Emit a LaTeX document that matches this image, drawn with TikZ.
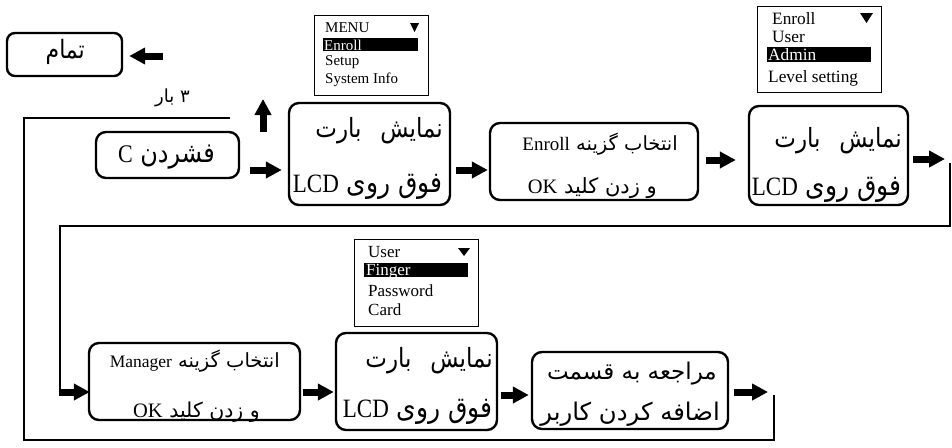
\documentclass[tikz,border=0pt]{standalone}
\usepackage{fontspec}
\usepackage{graphicx}
\setmainfont{Liberation Serif}
\newfontfamily\fa[Script=Arabic]{DejaVu Sans}
\TeXXeTstate=1
\usetikzlibrary{arrows.meta,calc}
\newcommand\setfs[1]{\fontsize{#1}{#1}\selectfont}
\newcommand\fatext[1]{{\fa\beginR #1\endR}}
\newcommand\tallfa[1]{\scalebox{1}[1.15]{\fatext{#1}}}
\tikzset{
  box/.style={draw, line width=2.4pt, rounded corners=10pt, inner sep=0pt},
  menu/.style={draw, line width=1pt, inner sep=0pt},
  fat/.style={line width=7pt, -{Triangle[length=16pt,width=16pt]}},
  thin/.style={line width=2.6pt},
  lbl/.style={inner sep=0pt, anchor=base east},
  mt/.style={inner sep=0pt, anchor=base west},
}
\begin{document}
\begin{tikzpicture}[x=1pt,y=-1pt]
\useasboundingbox (0,0) rectangle (952,447);
% boxes
\node[box, rounded corners=8pt, minimum width=115pt, minimum height=43pt] (tam) at (64.5,54.5) {};
\node[lbl] (tamt) at (85,58) {\tallfa{\setfs{22}تمام}};
\node[box, minimum width=143pt, minimum height=46pt] (pc) at (167.5,155) {};
\node[lbl] (pct) at (215,162) {\tallfa{\setfs{24}فشردن {\rmfamily\setfs{22}C}}};
\node[box, minimum width=161pt, minimum height=102pt] (b1) at (369.5,154) {};
\node[box, minimum width=208pt, minimum height=77pt] (b2) at (594,161.5) {};
\node[box, minimum width=159pt, minimum height=99pt] (b3) at (828.5,155.5) {};
\node[box, minimum width=211pt, minimum height=77pt] (b4) at (194.5,381.5) {};
\node[box, minimum width=161pt, minimum height=97pt] (b5) at (416.5,381.5) {};
\node[box, minimum width=196pt, minimum height=77pt] (b6) at (630,390.5) {};
% box texts
\node[lbl] (b1a) at (443,137) {\tallfa{\setfs{23}نمایش\hspace{0.5em} بارت}};
\node[lbl] (b1b) at (443,192) {\tallfa{\setfs{25}فوق روی {\rmfamily\setfs{23}LCD}}};
\node[lbl] (b2a) at (678,150) {\fatext{\setfs{19.5}انتخاب گزینه {\rmfamily\setfs{19}Enroll}}};
\node[lbl] (b2b) at (657,193) {\fatext{\setfs{21}و زدن کلید {\rmfamily\setfs{20.5}OK}}};
\node[lbl] (b3a) at (902,147) {\tallfa{\setfs{23}نمایش\hspace{0.5em} بارت}};
\node[lbl] (b3b) at (902,195) {\tallfa{\setfs{25}فوق روی {\rmfamily\setfs{23}LCD}}};
\node[lbl] (b4a) at (280,367) {\fatext{\setfs{19.5}انتخاب گزینه {\rmfamily\setfs{17.5}Manager}}};
\node[lbl] (b4b) at (260,417) {\fatext{\setfs{20.5}و زدن کلید {\rmfamily\setfs{20.5}OK}}};
\node[lbl] (b5a) at (493,367) {\tallfa{\setfs{23}نمایش\hspace{0.5em} بارت}};
\node[lbl] (b5b) at (493,417) {\tallfa{\setfs{25}فوق روی {\rmfamily\setfs{23}LCD}}};
\node[lbl] (b6a) at (717,379) {\fatext{\setfs{23}مراجعه به قسمت}};
\node[lbl] (b6b) at (720,420) {\fatext{\setfs{24.3}اضافه کردن کاربر}};
\node[lbl] (bar3) at (190,102) {\fatext{\setfs{18}۳ بار}};
% menus
\node[menu, minimum width=114pt, minimum height=80pt] (m1) at (371,55) {};
\fill (323,38) rectangle (418,51);
\fill (410,23) -- (419,23) -- (414.5,32) -- cycle;
\node[mt, font=\setfs{15}] (m1a) at (325,32) {MENU};
\node[mt, font=\setfs{15}, text=white] (m1b) at (324,50) {Enroll};
\node[mt, font=\setfs{15}] (m1c) at (325,65) {Setup};
\node[mt, font=\setfs{15}] (m1d) at (325,83) {System Info};
\node[menu, minimum width=124pt, minimum height=86pt] (m3) at (819,49) {};
\fill (767,47) rectangle (871,62);
\fill (860,13) -- (873,13) -- (866.5,23) -- cycle;
\node[mt, font=\setfs{17.3}] (m3a) at (772,24) {Enroll};
\node[mt, font=\setfs{17.3}] (m3b) at (772,42) {User};
\node[mt, font=\setfs{17.3}, text=white] (m3c) at (768,60) {Admin};
\node[mt, font=\setfs{17.3}] (m3d) at (768,82) {Level setting};
\node[menu, minimum width=124pt, minimum height=87pt] (m5) at (416,282.5) {};
\fill (364,263) rectangle (468,277);
\fill (458,248) -- (470,248) -- (464,256) -- cycle;
\node[mt, font=\setfs{17}] (m5a) at (368,257) {User};
\node[mt, font=\setfs{17}, text=white] (m5b) at (366,275) {Finger};
\node[mt, font=\setfs{17}] (m5c) at (368,296) {Password};
\node[mt, font=\setfs{17}] (m5d) at (368,315) {Card};
% connectors
\coordinate (t0) at (163,56);
\draw[fat] (t0) -- ([shift={(6,1.5)}]tam.east);
\coordinate (u0) at (263,132);
\coordinate (u1) at (263,99);
\draw[fat] (u0) -- (u1);
\draw[fat] ([shift={(10,15)}]pc.east) -- ([shift={(-6,16)}]b1.west);
\draw[fat] ([shift={(5,16)}]b1.east) -- ([shift={(-1,8.5)}]b2.west);
\draw[fat] ([shift={(7,-1.5)}]b2.east) -- ([shift={(-12,4.5)}]b3.west);
\coordinate (r1) at (945,159);
\draw[fat] ([shift={(4,3.5)}]b3.east) -- (r1);
\coordinate (r2) at (950,163);
\coordinate (l1) at (60,392);
\draw[thin] (r2) |- (60,226) -- (l1);
\draw[fat] ([xshift=-1.3pt]l1) -- ([shift={(2,10.5)}]b4.west);
\draw[fat] ([shift={(2,10.5)}]b4.east) -- ([shift={(-1,10.5)}]b5.west);
\draw[fat] ([shift={(3,13.5)}]b5.east) -- ([shift={(-2,4.5)}]b6.west);
\coordinate (e1) at (768,392);
\draw[fat] ([shift={(5,1.5)}]b6.east) -- (e1);
\coordinate (e2) at (774,395);
\coordinate (e3) at (230,118);
\draw[thin] (e2) -- (774,440) -- (24,440) -- (24,118) -- (e3);
\end{tikzpicture}
\end{document}
